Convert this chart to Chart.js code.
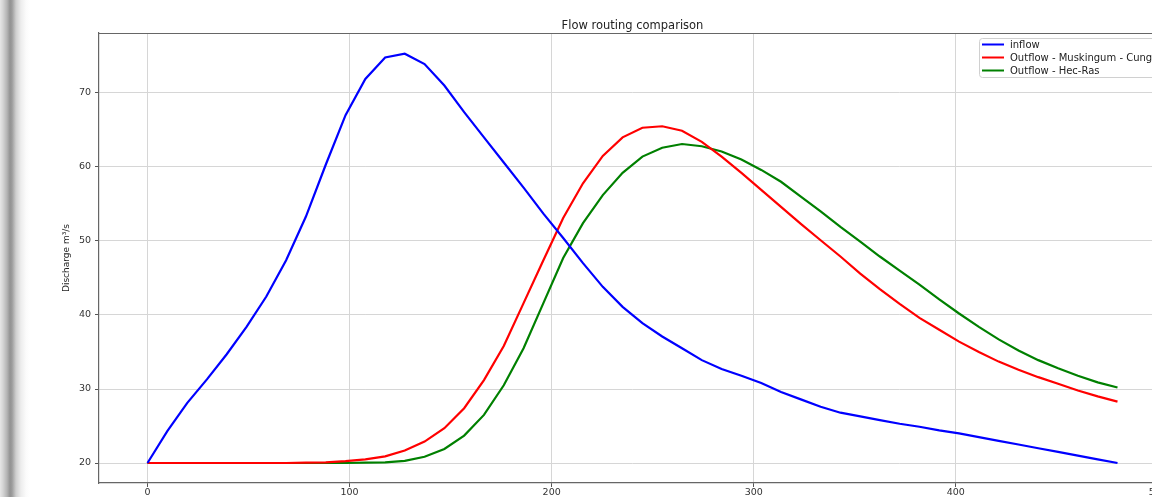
<!DOCTYPE html>
<html>
<head>
<meta charset="utf-8">
<script src="https://cdn.jsdelivr.net/npm/chart.js@4.4.1/dist/chart.umd.min.js"></script>
<style>
  html, body { margin: 0; padding: 0; background: #fff; overflow: hidden; }
  #wrap { position: relative; width: 1152px; height: 497px; overflow: hidden; }
  #c { position: absolute; left: 0; top: 0; }
  #shade {
    position: absolute; left: 0; top: 0; width: 30px; height: 497px; pointer-events: none;
    background: linear-gradient(to right, #e6e6e6 0px, #d4d4d4 3px, #b4b4b4 7px, #929292 10px, #9c9c9c 12px, #cfcfcf 16px, #ededed 21px, #fbfbfb 26px, #ffffff 30px);
  }
</style>
</head>
<body>
<div id="wrap">
  <canvas id="c" width="1200" height="497"></canvas>
  <div id="shade"></div>
</div>
<script>
const chartTitle = 'Flow routing comparison';
const yLabel = 'Discharge m³/s';
const seriesNames = ['inflow', 'Outflow - Muskingum - Cunge', 'Outflow - Hec-Ras'];

const times = [0, 9.8, 19.6, 29.4, 39.2, 49.0, 58.8, 68.6, 78.4, 88.2,
  98.0, 107.8, 117.6, 127.3, 137.1, 146.9, 156.7, 166.5, 176.3, 186.1,
  195.9, 205.7, 215.5, 225.3, 235.1, 244.9, 254.7, 264.5, 274.3, 284.1,
  293.9, 303.7, 313.5, 323.3, 333.1, 342.9, 352.7, 362.4, 372.2, 382.0,
  391.8, 401.6, 411.4, 421.2, 431.0, 440.8, 450.6, 460.4, 470.2, 480.0];

const inflow = [20.0, 24.3, 28.1, 31.3, 34.7, 38.4, 42.5, 47.4, 53.3, 60.3,
  67.0, 71.9, 74.8, 75.3, 73.9, 71.0, 67.4, 64.0, 60.6, 57.2,
  53.7, 50.4, 47.0, 43.8, 41.1, 38.9, 37.1, 35.5, 33.9, 32.7,
  31.8, 30.8, 29.6, 28.6, 27.6, 26.8, 26.3, 25.8, 25.3, 24.9,
  24.4, 24.0, 23.5, 23.0, 22.5, 22.0, 21.5, 21.0, 20.5, 20.0];

const muskingum = [20.0, 20.0, 20.0, 20.0, 20.0, 20.0, 20.0, 20.0, 20.05, 20.1,
  20.25, 20.5, 20.9, 21.7, 22.9, 24.7, 27.4, 31.2, 35.8, 41.6,
  47.4, 53.1, 57.8, 61.5, 64.0, 65.3, 65.5, 64.9, 63.4, 61.4,
  59.2, 56.9, 54.6, 52.3, 50.1, 47.9, 45.6, 43.5, 41.5, 39.6,
  38.0, 36.4, 35.0, 33.7, 32.6, 31.6, 30.7, 29.8, 29.0, 28.3];

const hecras = [20.0, 20.0, 20.0, 20.0, 20.0, 20.0, 20.0, 20.0, 20.0, 20.0,
  20.0, 20.05, 20.1, 20.3, 20.85, 21.9, 23.7, 26.5, 30.5, 35.5,
  41.6, 47.7, 52.4, 56.2, 59.2, 61.4, 62.6, 63.1, 62.8, 62.1,
  61.0, 59.6, 58.0, 56.0, 54.0, 51.9, 49.9, 47.9, 46.0, 44.1,
  42.1, 40.2, 38.4, 36.7, 35.2, 33.9, 32.8, 31.8, 30.9, 30.2];

const xTicks = [0, 100, 200, 300, 400, 500];
const yTicks = [20, 30, 40, 50, 60, 70];

const toPoints = vals => times.map((t, i) => ({ x: t, y: vals[i] }));

// title, y label, top/right spines and a matplotlib-like legend
const extras = {
  id: 'extras',
  afterDraw(chart) {
    const ctx = chart.ctx;
    const a = chart.chartArea;
    ctx.save();

    ctx.strokeStyle = '#666';
    ctx.lineWidth = 1.2;
    ctx.beginPath();
    ctx.moveTo(a.left, a.top + 0.5);
    ctx.lineTo(a.right, a.top + 0.5);
    ctx.moveTo(a.right - 0.5, a.top);
    ctx.lineTo(a.right - 0.5, a.bottom);
    ctx.stroke();

    ctx.fillStyle = '#222';
    ctx.font = '11.5px "DejaVu Sans"';
    ctx.textAlign = 'center';
    ctx.textBaseline = 'alphabetic';
    ctx.fillText(chartTitle, (a.left + a.right) / 2, 29);

    ctx.save();
    ctx.translate(67, (a.top + a.bottom) / 2);
    ctx.rotate(-Math.PI / 2);
    ctx.font = '9px "DejaVu Sans"';
    ctx.textBaseline = 'middle';
    ctx.fillText(yLabel, 0, 0);
    ctx.restore();

    // legend
    const bx = 979, by = 38.5, bw = 190, bh = 39;
    ctx.fillStyle = 'rgba(255,255,255,0.85)';
    ctx.strokeStyle = '#d0d0d0';
    ctx.lineWidth = 1;
    ctx.beginPath();
    ctx.roundRect(bx + 0.5, by, bw, bh, 3);
    ctx.fill();
    ctx.stroke();
    ctx.font = '10px "DejaVu Sans"';
    ctx.textAlign = 'left';
    ctx.textBaseline = 'middle';
    chart.data.datasets.forEach((ds, i) => {
      const ry = 44.5 + i * 13;
      ctx.strokeStyle = ds.borderColor;
      ctx.lineWidth = 2;
      ctx.beginPath();
      ctx.moveTo(982, ry);
      ctx.lineTo(1004, ry);
      ctx.stroke();
      ctx.fillStyle = '#222';
      ctx.fillText(ds.label, 1010, ry + 0.5);
    });
    ctx.restore();
  }
};

new Chart(document.getElementById('c').getContext('2d'), {
  type: 'line',
  data: {
    datasets: [
      { label: seriesNames[0], data: toPoints(inflow), borderColor: '#0000ff' },
      { label: seriesNames[1], data: toPoints(muskingum), borderColor: '#ff0000' },
      { label: seriesNames[2], data: toPoints(hecras), borderColor: '#008000' }
    ]
  },
  options: {
    responsive: false,
    animation: false,
    devicePixelRatio: 1,
    layout: { padding: { left: 0, top: 33, right: 34, bottom: 0 } },
    elements: {
      line: { borderWidth: 2.2, tension: 0 },
      point: { radius: 0 }
    },
    plugins: {
      legend: { display: false },
      title: { display: false },
      tooltip: { enabled: false }
    },
    scales: {
      x: {
        type: 'linear',
        min: -24,
        max: 504,
        afterBuildTicks: s => { s.ticks = xTicks.map(v => ({ value: v })); },
        afterFit: s => { s.height = 14; },
        grid: { color: '#d6d6d6', lineWidth: 1, tickLength: 4, tickColor: '#555' },
        border: { display: true, color: '#666', width: 1.2 },
        ticks: { color: '#333', font: { family: 'DejaVu Sans', size: 9.5 }, padding: 0, maxRotation: 0 }
      },
      y: {
        type: 'linear',
        min: 17.3,
        max: 78.1,
        afterBuildTicks: s => { s.ticks = yTicks.map(v => ({ value: v })); },
        afterFit: s => { s.width = 99; },
        grid: { color: '#d6d6d6', lineWidth: 1, tickLength: 4, tickColor: '#555' },
        border: { display: true, color: '#666', width: 1.2 },
        ticks: { color: '#333', font: { family: 'DejaVu Sans', size: 9.5 }, padding: 4 }
      }
    }
  },
  plugins: [extras]
});
</script>
</body>
</html>
